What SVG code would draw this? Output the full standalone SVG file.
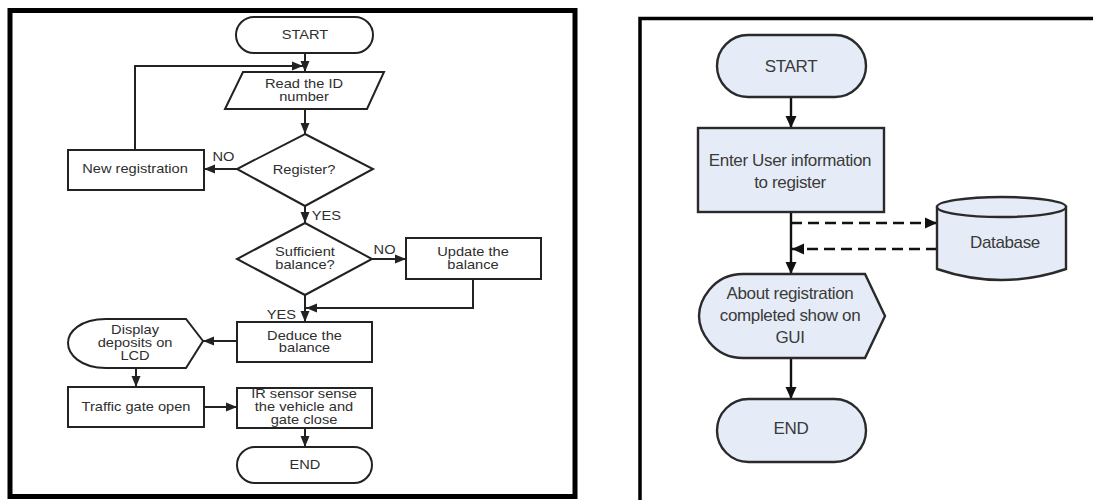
<svg xmlns="http://www.w3.org/2000/svg" width="1093" height="500" viewBox="0 0 1093 500">
  <defs>
    <style>
      .frame { fill: none; stroke: #000; }
      .ln { fill: none; stroke: #222; stroke-width: 2; }
      .shp { fill: #fff; stroke: #222; stroke-width: 2; }
      .shp2 { fill: #e6ecf7; stroke: #2a2a2a; stroke-width: 2.4; }
      .ln2 { fill: none; stroke: #111; stroke-width: 2.4; }
      .dash { stroke-dasharray: 11 6; }
      .t1 { font-family: "Liberation Sans", Arial, sans-serif; font-size: 12px; fill: #2e2e2e; text-anchor: middle; }
      .t2 { font-family: "Liberation Sans", Arial, sans-serif; font-size: 17px; fill: #3a3a3a; text-anchor: middle; letter-spacing: -0.35px; }
    </style>
    <marker id="ah" markerUnits="userSpaceOnUse" markerWidth="11" markerHeight="11" viewBox="0 0 11 11" refX="11" refY="5.5" orient="auto">
      <path d="M0,1 L11,5.5 L0,10 Z" fill="#222"/>
    </marker>
    <marker id="ah2" markerUnits="userSpaceOnUse" markerWidth="12" markerHeight="12" viewBox="0 0 12 12" refX="12" refY="6" orient="auto">
      <path d="M0,0.5 L12,6 L0,11.5 Z" fill="#111"/>
    </marker>
  </defs>

  <rect width="1093" height="500" fill="#fff"/>

  <!-- panel frames -->
  <rect class="frame" x="10" y="10.5" width="565" height="486" stroke-width="5"/>
  <path class="frame" d="M640,500 L640,18.5 L1093,18.5" stroke-width="3.5"/>

  <!-- ===== left flowchart: connectors ===== -->
  <g id="left-connectors">
    <path class="ln" d="M305,53 L305,72" marker-end="url(#ah)"/>
    <path class="ln" d="M135,150 L135,66 L303,66" marker-end="url(#ah)"/>
    <path class="ln" d="M305,109 L305,134" marker-end="url(#ah)"/>
    <path class="ln" d="M237,169 L204,169" marker-end="url(#ah)"/>
    <path class="ln" d="M305,206 L305,223" marker-end="url(#ah)"/>
    <path class="ln" d="M372,259 L406,259" marker-end="url(#ah)"/>
    <path class="ln" d="M473,279 L473,308 L306,308" marker-end="url(#ah)"/>
    <path class="ln" d="M305,295 L305,322" marker-end="url(#ah)"/>
    <path class="ln" d="M237,341 L203,341" marker-end="url(#ah)"/>
    <path class="ln" d="M136,368 L136,387" marker-end="url(#ah)"/>
    <path class="ln" d="M204,407 L237,407" marker-end="url(#ah)"/>
    <path class="ln" d="M305,428 L305,447" marker-end="url(#ah)"/>
  </g>

  <!-- ===== left flowchart: nodes ===== -->
  <g id="l-start"><rect class="shp" x="236" y="17" width="137" height="36" rx="18"/></g>
  <g id="l-read"><path class="shp" d="M243,72 L384,72 L367,109 L225,109 Z"/></g>
  <g id="l-register"><path class="shp" d="M305,134 L373,169 L305,206 L237,169 Z"/></g>
  <g id="l-newreg"><rect class="shp" x="68" y="150" width="136" height="40"/></g>
  <g id="l-sufficient"><path class="shp" d="M305,223 L372,259 L305,295 L237,259 Z"/></g>
  <g id="l-update"><rect class="shp" x="406" y="238" width="135" height="41"/></g>
  <g id="l-deduce"><rect class="shp" x="237" y="322" width="135" height="40"/></g>
  <g id="l-display"><path class="shp" d="M106,319 L186,319 L203,341 L186,368 L106,368 C80,368 68,354 68,343 C68,332 80,319 106,319 Z"/></g>
  <g id="l-traffic"><rect class="shp" x="68" y="387" width="136" height="40"/></g>
  <g id="l-ir"><rect class="shp" x="237" y="388" width="135" height="40"/></g>
  <g id="l-end"><rect class="shp" x="237" y="447" width="135" height="36" rx="18"/></g>

  <!-- left labels, widened horizontally -->
  <g id="left-labels" transform="scale(1.22,1)">
    <text class="t1" x="250" y="39">START</text>
    <text class="t1" x="249.2" y="88">Read the ID</text>
    <text class="t1" x="249.2" y="101">number</text>
    <text class="t1" x="249.2" y="174">Register?</text>
    <text class="t1" x="110.7" y="173">New registration</text>
    <text class="t1" x="183.2" y="161">NO</text>
    <text class="t1" x="267.6" y="220">YES</text>
    <text class="t1" x="250" y="256">Sufficient</text>
    <text class="t1" x="250" y="269">balance?</text>
    <text class="t1" x="315.2" y="254">NO</text>
    <text class="t1" x="387.7" y="256">Update the</text>
    <text class="t1" x="387.7" y="269">balance</text>
    <text class="t1" x="230.7" y="319">YES</text>
    <text class="t1" x="249.6" y="340">Deduce the</text>
    <text class="t1" x="249.6" y="352">balance</text>
    <text class="t1" x="110.7" y="334">Display</text>
    <text class="t1" x="110.7" y="347">deposits on</text>
    <text class="t1" x="110.7" y="360">LCD</text>
    <text class="t1" x="111.5" y="411">Traffic gate open</text>
    <text class="t1" x="249.2" y="398">IR sensor sense</text>
    <text class="t1" x="249.2" y="411">the vehicle and</text>
    <text class="t1" x="249.2" y="424">gate close</text>
    <text class="t1" x="250" y="469">END</text>
  </g>

  <!-- ===== right flowchart: connectors ===== -->
  <g id="right-connectors">
    <path class="ln2" d="M791,97 L791,128" marker-end="url(#ah2)"/>
    <path class="ln2" d="M791,212 L791,274" marker-end="url(#ah2)"/>
    <path class="ln2 dash" d="M791,223 L937,223" marker-end="url(#ah2)"/>
    <path class="ln2 dash" d="M937,249 L792,249" marker-end="url(#ah2)"/>
    <path class="ln2" d="M791,358 L791,399" marker-end="url(#ah2)"/>
  </g>

  <!-- ===== right flowchart: nodes ===== -->
  <g id="r-start">
    <rect class="shp2" x="717" y="35" width="149" height="62" rx="31"/>
    <text class="t2" x="791" y="72">START</text>
  </g>
  <g id="r-enter">
    <rect class="shp2" x="698" y="128" width="186" height="84"/>
    <text class="t2" x="790" y="166">Enter User information</text>
    <text class="t2" x="790" y="188">to register</text>
  </g>
  <g id="r-database">
    <path class="shp2" d="M937,207 L937,269 Q1001.5,291 1066,269 L1066,207 Z"/>
    <ellipse class="shp2" cx="1001.5" cy="207" rx="64.5" ry="10"/>
    <text class="t2" x="1005" y="248">Database</text>
  </g>
  <g id="r-about">
    <path class="shp2" d="M743,274 L865,274 L885,316 L865,358 L743,358 C712,358 699,330 699,316 C699,302 712,274 743,274 Z"/>
    <text class="t2" x="790" y="299">About registration</text>
    <text class="t2" x="790" y="321">completed show on</text>
    <text class="t2" x="790" y="343">GUI</text>
  </g>
  <g id="r-end">
    <rect class="shp2" x="717" y="399" width="149" height="63" rx="31.5"/>
    <text class="t2" x="791" y="434">END</text>
  </g>
</svg>
